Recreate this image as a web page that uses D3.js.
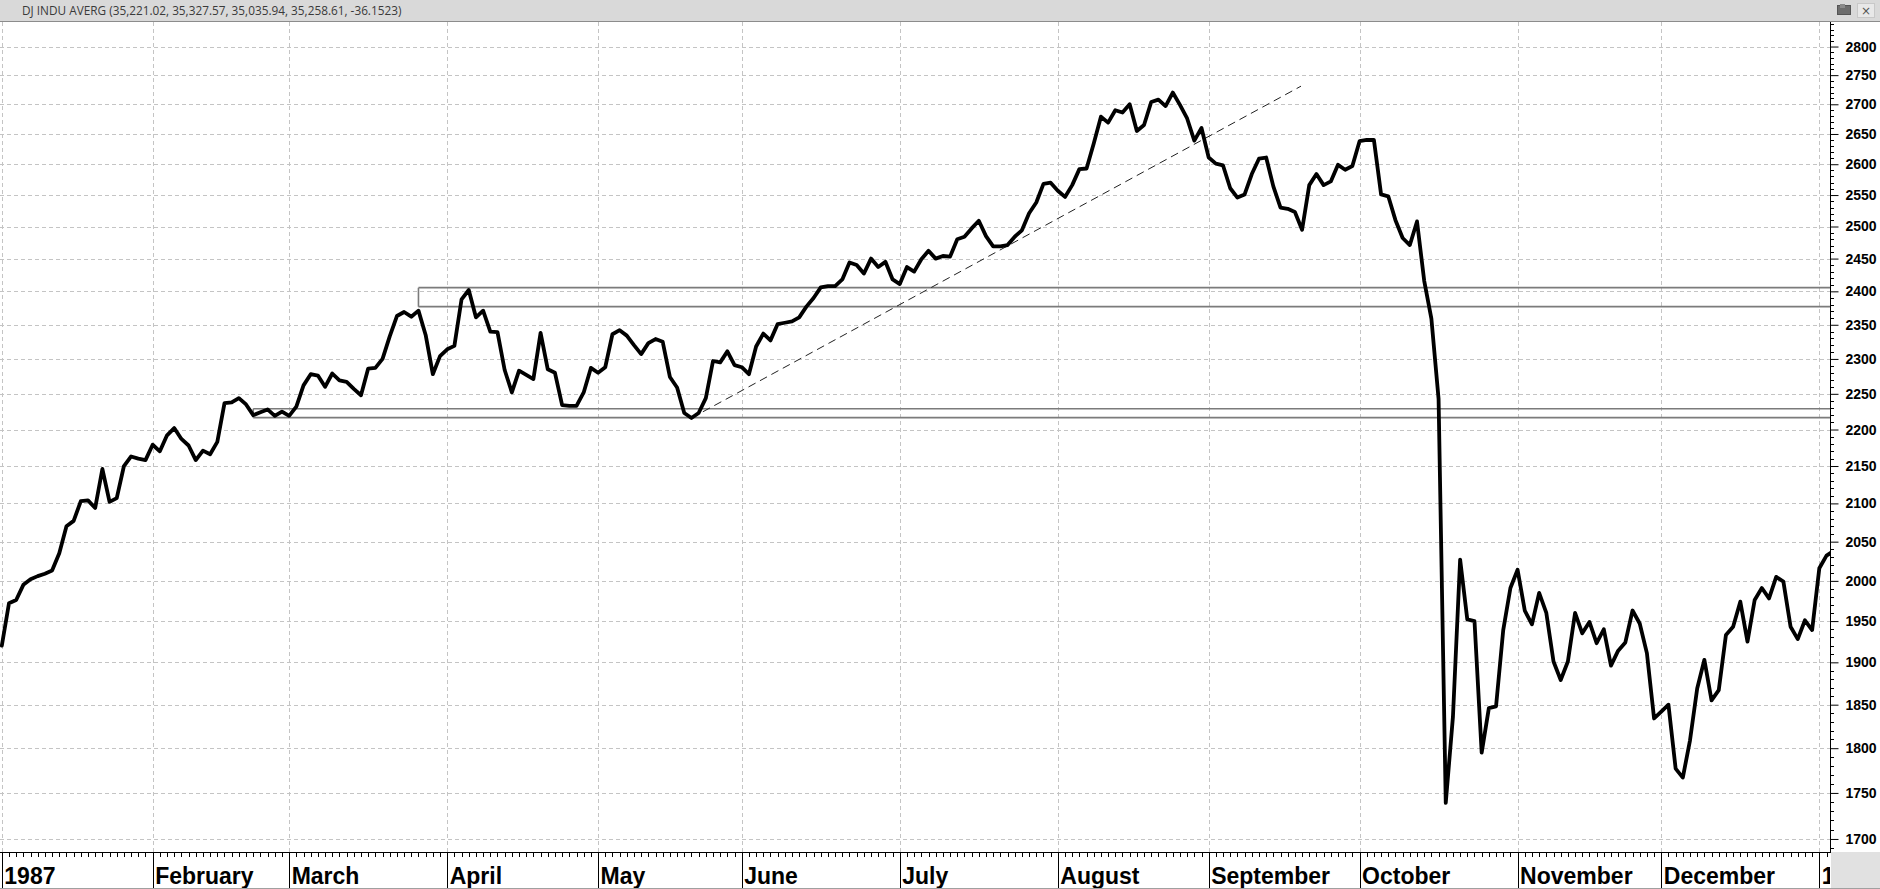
<!DOCTYPE html>
<html><head><meta charset="utf-8">
<script src="https://cdn.jsdelivr.net/npm/d3@7"></script>
<style>
html,body{margin:0;padding:0;background:#fff;overflow:hidden;}
svg{display:block;}
</style></head>
<body>
<svg id="c" width="1880" height="889"></svg>
<script>
// ---- data (daily closes, trading-day index) ----
const closes = [
1920,1972,1976,1995,2002,2006,2009,2013,2035,2070,
2077,2103,2104,2094,2146,2102,2107,2150,2163,2160,
2158,2179,2170,2192,2202,2187,2178,2158,2171,2166,
2183,2237,2238,2244,2235,2220,2224,2228,2219,2225,
2219,2232,2262,2278,2276,2260,2279,2269,2267,2257,
2248,2286,2287,2300,2333,2363,2369,2362,2371,2335,
2278,2304,2314,2319,2388,2402,2361,2371,2340,2339,
2284,2252,2283,2277,2271,2338,2285,2280,2234,2233,
2233,2252,2287,2280,2288,2336,2342,2334,2320,2307,
2323,2329,2325,2274,2259,2223,2216,2223,2244,2297,
2295,2311,2291,2288,2278,2318,2337,2327,2351,2353,
2355,2361,2377,2390,2406,2408,2408,2418,2444,2440,
2427,2450,2437,2445,2418,2411,2437,2430,2449,2462,
2450,2454,2453,2480,2484,2497,2509,2485,2469,2469,
2471,2484,2494,2521,2538,2568,2570,2557,2547,2566,
2592,2593,2634,2679,2669,2690,2686,2700,2655,2665,
2704,2708,2697,2720,2699,2676,2639,2660,2611,2601,
2598,2561,2546,2551,2584,2609,2611,2564,2530,2528,
2523,2495,2566,2584,2566,2572,2599,2591,2597,2638,
2640,2640,2551,2548,2510,2482,2471,2508,2416,2359,
2243,1739,1836,2027,1952,1950,1795,1846,1848,1939,
1991,2014,1963,1946,1985,1960,1901,1879,1901,1960,
1935,1949,1923,1940,1896,1914,1924,1963,1947,1911,
1834,1842,1850,1777,1767,1809,1869,1903,1855,1867,
1933,1943,1974,1925,1976,1991,1978,2005,1999,1943,
1928,1951,1939,2016,2032,2038
];
const monthLabels = ["1987","February","March","April","May","June","July","August","September","October","November","December","1"];
const monthStartIdx = [0,21,40,62,83,103,125,147,168,189,211,231,253];
const yTickValues = [1700,1750,1800,1850,1900,1950,2000,2050,2100,2150,2200,2250,2300,2350,2400,2450,2500,2550,2600,2650,2700,2750,2800];
const titleText = "DJ INDU AVERG (35,221.02, 35,327.57, 35,035.94, 35,258.61, -36.1523)";
// support/resistance boxes drawn on the chart
const boxStartIdx = [58, 35];
const boxTopVal = [2405.6, 2229];
const boxBottomVal = [2377, 2216.5];
// dashed trend line
const trendIdx = [96, 180.85];
const trendVal = [2216, 2731];

// ---- layout ----
const W = 1880, H = 889, headerH = 22, plotR = 1830, plotB = 852;
const svg = d3.select("#c");
const x = d3.scaleLinear().domain([0, 254]).range([1.8, 1826.5]);
const y = d3.scaleLog().domain([1686.1, 2843.6]).range([plotB, headerH]);

// background
svg.append("rect").attr("x",0).attr("y",0).attr("width",W).attr("height",H).attr("fill","#fff");

// header
const hdr = svg.append("g");
hdr.append("rect").attr("x",0).attr("y",0).attr("width",W).attr("height",headerH).attr("fill","#d9d9d9");
hdr.append("line").attr("x1",0).attr("x2",W).attr("y1",headerH-0.5).attr("y2",headerH-0.5).attr("stroke","#8c8c8c").attr("stroke-width",1);
hdr.append("text").attr("x",22).attr("y",15).attr("font-family","'Open Sans','Noto Sans',sans-serif")
  .attr("font-size",11.8).attr("fill","#3a3a3a").text(titleText);
// window icons
hdr.append("rect").attr("x",1837.5).attr("y",5.5).attr("width",13).attr("height",9).attr("fill","#6d6d6d").attr("stroke","#555");
hdr.append("rect").attr("x",1840).attr("y",4).attr("width",5).attr("height",4).attr("fill","#8a8a8a");
hdr.append("rect").attr("x",1857.5).attr("y",3.5).attr("width",17).attr("height",14).attr("fill","#e8e8e8").attr("stroke","#c8c8c8");
hdr.append("text").attr("x",1866).attr("y",15).attr("text-anchor","middle").attr("font-family","'DejaVu Sans',sans-serif")
  .attr("font-size",12).attr("fill","#555").text("\u00d7");

// clip for plot
svg.append("defs").append("clipPath").attr("id","pc").append("rect")
  .attr("x",0).attr("y",headerH).attr("width",plotR).attr("height",plotB-headerH);
const plot = svg.append("g").attr("clip-path","url(#pc)");

// grid
plot.append("g").selectAll("line").data(yTickValues).join("line")
  .attr("x1",0).attr("x2",plotR).attr("y1",d=>Math.round(y(d))+0.5).attr("y2",d=>Math.round(y(d))+0.5)
  .attr("stroke","#c4c4c4").attr("stroke-width",1).attr("stroke-dasharray","4,3");
plot.append("g").selectAll("line").data(monthStartIdx).join("line")
  .attr("x1",d=>Math.round(x(d))+0.5).attr("x2",d=>Math.round(x(d))+0.5).attr("y1",headerH).attr("y2",plotB)
  .attr("stroke","#c4c4c4").attr("stroke-width",1).attr("stroke-dasharray","4,3");

// boxes
boxStartIdx.forEach((s,k)=>{
  const x0 = x(s), yt = y(boxTopVal[k]), yb = y(boxBottomVal[k]);
  plot.append("path").attr("d",`M${x0},${yt}H${plotR}M${x0},${yb}H${plotR}M${x0},${yt}V${yb}`)
    .attr("fill","none").attr("stroke","#7b7b7b").attr("stroke-width",1.6);
});

// trend line
plot.append("line").attr("x1",x(trendIdx[0])).attr("y1",y(trendVal[0]))
  .attr("x2",x(trendIdx[1])).attr("y2",y(trendVal[1]))
  .attr("stroke","#222").attr("stroke-width",1).attr("stroke-dasharray","8,5");

// price line
plot.append("path").datum(closes)
  .attr("d", d3.line().x((d,i)=>x(i)).y(d=>y(d)))
  .attr("fill","none").attr("stroke","#000").attr("stroke-width",3.8)
  .attr("stroke-linejoin","round").attr("stroke-linecap","round");

// right axis
const yAxis = d3.axisRight(y).tickValues(yTickValues).tickFormat(d3.format("d")).tickSize(8).tickSizeOuter(0).tickPadding(7);
const ax = svg.append("g").attr("transform",`translate(${plotR+0.5},0)`).call(yAxis);
ax.select(".domain").attr("d",`M0,${headerH}V${plotB}`).attr("stroke","#000");
ax.selectAll(".tick line").attr("stroke","#000");
ax.selectAll(".tick text").attr("font-family","'Liberation Sans',Arial,sans-serif").attr("font-weight","bold")
  .attr("font-size",14).attr("fill","#000");
const minorVals = d3.range(1690, 2850, 10).filter(v => v % 50 !== 0 && y(v) >= headerH && y(v) <= plotB);
svg.append("g").selectAll("line").data(minorVals).join("line")
  .attr("x1",plotR).attr("x2",plotR+4).attr("y1",d=>Math.round(y(d))+0.5).attr("y2",d=>Math.round(y(d))+0.5)
  .attr("stroke","#000").attr("stroke-width",1);

// bottom time band
const band = svg.append("g");
band.append("rect").attr("x",0).attr("y",plotB).attr("width",plotR).attr("height",H-plotB).attr("fill","#fff");
band.append("rect").attr("x",plotR+1).attr("y",plotB).attr("width",W-plotR-1).attr("height",H-plotB).attr("fill","#e1e1e1");
band.append("line").attr("x1",0).attr("x2",plotR+1).attr("y1",plotB+0.5).attr("y2",plotB+0.5).attr("stroke","#000");
const dayIdx = d3.range(0, closes.length).filter(i => x(i) < plotR);
band.append("g").selectAll("line").data(dayIdx).join("line")
  .attr("x1",d=>Math.round(x(d))+0.5).attr("x2",d=>Math.round(x(d))+0.5).attr("y1",plotB).attr("y2",plotB+5)
  .attr("stroke","#000").attr("stroke-width",1);
band.append("g").selectAll("line").data(monthStartIdx).join("line")
  .attr("x1",d=>Math.round(x(d))+0.5).attr("x2",d=>Math.round(x(d))+0.5).attr("y1",plotB).attr("y2",H)
  .attr("stroke","#000").attr("stroke-width",1);
band.append("defs").append("clipPath").attr("id","bc").append("rect").attr("x",0).attr("y",plotB).attr("width",plotR).attr("height",H-plotB);
band.append("g").attr("clip-path","url(#bc)").selectAll("text").data(monthLabels).join("text")
  .attr("x",(d,i)=>x(monthStartIdx[i])+2.5).attr("y",884)
  .attr("font-family","'Liberation Sans',Arial,sans-serif").attr("font-weight","bold").attr("font-size",23)
  .attr("fill","#000").text(d=>d);
band.append("line").attr("x1",0).attr("x2",W).attr("y1",H-0.5).attr("y2",H-0.5).attr("stroke","#a0a0a0");
</script>
</body></html>
